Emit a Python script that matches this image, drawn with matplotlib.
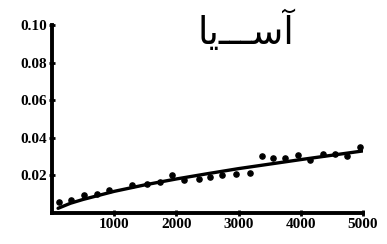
import matplotlib
matplotlib.use("Agg")
import matplotlib.pyplot as plt

# scatter data
px = [110, 310, 520, 730, 920, 1290, 1530, 1730, 1935, 2130, 2370, 2540, 2740, 2960,
      3180, 3370, 3550, 3740, 3950, 4150, 4350, 4550, 4740, 4950]
py = [0.006, 0.007, 0.0095, 0.010, 0.012, 0.015, 0.0155, 0.0165, 0.020, 0.0175, 0.018,
      0.019, 0.020, 0.021, 0.0215, 0.0305, 0.029, 0.029, 0.031, 0.028, 0.0315, 0.0315,
      0.0305, 0.035]

# fitted curve
cx = [100, 300, 500, 1000, 1500, 2000, 2500, 3000, 3500, 4000, 4500, 5000]
cy = [0.0025, 0.0052, 0.0072, 0.0115, 0.0150, 0.0181, 0.0209, 0.0236, 0.0260, 0.0284, 0.0307, 0.0330]

xticks = [1000, 2000, 3000, 4000, 5000]
yticks = [0.02, 0.04, 0.06, 0.08, 0.10]
ylabels = ["0.02", "0.04", "0.06", "0.08", "0.10"]
title = "\uFE8E\uFBFE\u0640\u0640\u0640\uFEB3\uFE81"  # آسیا (presentation forms, visual order)

fig = plt.figure(figsize=(3.87, 2.44), dpi=100)
ax = fig.add_axes([0.134, 0.127, 0.804, 0.771])

ax.plot(cx, cy, color="black", lw=2.4, solid_capstyle="round")
ax.scatter(px, py, s=14, color="black", zorder=3)

ax.set_xlim(0, 5000)
ax.set_ylim(0, 0.10)
for s in ["top", "right"]:
    ax.spines[s].set_visible(False)
for s in ["left", "bottom"]:
    ax.spines[s].set_linewidth(2.8)

ax.set_xticks(xticks)
ax.set_xticklabels([str(t) for t in xticks], fontfamily="Liberation Serif",
                   fontweight="bold", fontsize=11)
ax.set_yticks(yticks)
ax.set_yticklabels(ylabels, fontfamily="Liberation Serif", fontweight="bold", fontsize=11)
ax.tick_params(direction="inout", length=5, width=2, pad=1)

fig.text(0.635, 0.87, title, fontfamily="DejaVu Sans", fontsize=27,
         ha="center", va="center", color="black")

fig.savefig("out.png", dpi=100)
